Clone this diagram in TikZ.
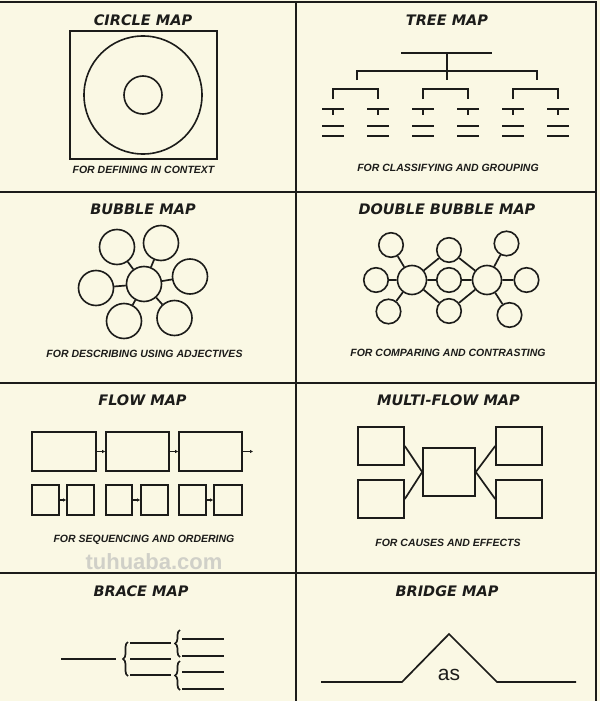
\documentclass[tikz,border=0pt]{standalone}
\usepackage{fontspec}
\setmainfont{Liberation Sans}
\newfontfamily\cimbetu{DejaVu Sans}
\usetikzlibrary{arrows.meta,decorations.pathreplacing}
\definecolor{papir}{RGB}{250,248,228}
\definecolor{tinta}{RGB}{28,28,26}
\definecolor{vizjel}{RGB}{208,208,200}
\tikzset{
  cim/.style={inner sep=0pt,text=tinta,font=\cimbetu\bfseries\itshape\fontsize{14.5}{16}\selectfont},
  alcim/.style={inner sep=0pt,text=tinta,font=\bfseries\itshape\fontsize{10.5}{12}\selectfont},
  keret/.style={draw=tinta,line width=2pt},
  vonal/.style={draw=tinta,line width=1.7pt},
  buborek/.style={circle,draw=tinta,line width=1.6pt,inner sep=0pt,minimum size=35pt},
  kisbub/.style={buborek,minimum size=24.5pt},
  doboz/.style={draw=tinta,line width=1.6pt,inner sep=0pt},
  kisnyil/.style={vonal,-{Latex[length=3pt,width=3.5pt]}},
  kapocs/.style={vonal,decorate,decoration={brace,amplitude=5pt}},
}
\begin{document}
\begin{tikzpicture}[x=1pt,y=-1pt]
  \useasboundingbox (0,0) rectangle (600,701);
  \fill[papir] (0,0) rectangle (600,701);
  % panels
  \draw[keret] (0,2) -- (596,2) -- (596,701);
  \draw[keret] (296,2) -- (296,701);
  \draw[keret] (0,192) -- (596,192);
  \draw[keret] (0,383) -- (596,383);
  \draw[keret] (0,573) -- (596,573);
  % circle map
  \node[cim] (korT) at (143,20.5) {CIRCLE MAP};
  \draw[vonal] (70,31) rectangle (217,159);
  \node[buborek,minimum size=118pt] (kulso) at (143,95) {};
  \node[buborek,minimum size=38pt] (belso) at (143,95) {};
  \node[alcim] (korF) at (143.5,170) {FOR DEFINING IN CONTEXT};
  % tree map
  \node[cim] (faT) at (447,20.5) {TREE MAP};
  \draw[vonal] (401,53) -- (492,53) (447,53) -- (447,80);
  \draw[vonal] (357,80) -- (357,71) -- (537,71) -- (537,80);
  \draw[vonal] (333,99) -- (333,89) -- (378,89) -- (378,99);
  \draw[vonal] (423,99) -- (423,89) -- (468,89) -- (468,99);
  \draw[vonal] (513,99) -- (513,89) -- (558,89) -- (558,99);
  \foreach \x in {333,378,423,468,513,558}{
    \draw[vonal] (\x-11,109) -- (\x+11,109) (\x,109) -- (\x,115);
    \draw[vonal] (\x-11,126) -- (\x+11,126) (\x-11,136) -- (\x+11,136);
  }
  \node[alcim] (faF) at (448,168) {FOR CLASSIFYING AND GROUPING};
  % bubble map
  \node[cim] (bubT) at (143,209.5) {BUBBLE MAP};
  \node[buborek] (bk) at (144,284) {};
  \node[buborek] (b1) at (117,247) {};
  \node[buborek] (b2) at (161,243) {};
  \node[buborek] (b3) at (190,276.5) {};
  \node[buborek] (b4) at (96,288) {};
  \node[buborek] (b5) at (124,321) {};
  \node[buborek] (b6) at (174.5,318) {};
  \draw[vonal] (bk) -- (b1) (bk) -- (b2) (bk) -- (b3)
    (bk) -- (b4) (bk) -- (b5) (bk) -- (b6);
  \node[alcim] (bubF) at (144.5,354) {FOR DESCRIBING USING ADJECTIVES};
  % double bubble map
  \node[cim] (dbT) at (447,209) {DOUBLE BUBBLE MAP};
  \node[buborek,minimum size=29pt] (bal) at (412,280) {};
  \node[buborek,minimum size=29pt] (jobb) at (487,280) {};
  \node[kisbub] (m1) at (449,250) {};
  \node[kisbub] (m2) at (449,280) {};
  \node[kisbub] (m3) at (449,311) {};
  \node[kisbub] (l1) at (391,245) {};
  \node[kisbub] (l2) at (376,280) {};
  \node[kisbub] (l3) at (388.5,311.5) {};
  \node[kisbub] (r1) at (506.5,243.5) {};
  \node[kisbub] (r2) at (526.5,280) {};
  \node[kisbub] (r3) at (509.5,315) {};
  \draw[vonal] (bal) -- (l1) (bal) -- (l2) (bal) -- (l3)
    (bal) -- (m1) (bal) -- (m2) (bal) -- (m3);
  \draw[vonal] (jobb) -- (r1) (jobb) -- (r2) (jobb) -- (r3)
    (jobb) -- (m1) (jobb) -- (m2) (jobb) -- (m3);
  \node[alcim] (dbF) at (448,353) {FOR COMPARING AND CONTRASTING};
  % flow map
  \node[cim] (flT) at (142.5,400) {FLOW MAP};
  \node[doboz,minimum width=64pt,minimum height=39pt] (f1) at (64,451.5) {};
  \node[doboz,minimum width=63pt,minimum height=39pt] (f2) at (137.5,451.5) {};
  \node[doboz,minimum width=63pt,minimum height=39pt] (f3) at (210.5,451.5) {};
  \coordinate (fv) at (253,451.5);
  \draw[kisnyil] (f1) -- (f2);
  \draw[kisnyil] (f2) -- (f3);
  \draw[kisnyil] (f3) -- (fv);
  \node[doboz,minimum width=27pt,minimum height=30pt] (s1) at (45.5,500) {};
  \node[doboz,minimum width=27pt,minimum height=30pt] (s2) at (80.5,500) {};
  \node[doboz,minimum width=26pt,minimum height=30pt] (s3) at (119,500) {};
  \node[doboz,minimum width=27pt,minimum height=30pt] (s4) at (154.5,500) {};
  \node[doboz,minimum width=27pt,minimum height=30pt] (s5) at (192.5,500) {};
  \node[doboz,minimum width=28pt,minimum height=30pt] (s6) at (228,500) {};
  \draw[kisnyil] (s1) -- (s2);
  \draw[kisnyil] (s3) -- (s4);
  \draw[kisnyil] (s5) -- (s6);
  \node[alcim] (flF) at (144,540) {FOR SEQUENCING AND ORDERING};
  \node[inner sep=0pt,text=vizjel,font=\bfseries\fontsize{22}{24}\selectfont] (jel) at (154,562) {tuhuaba.com};
  % multi-flow map
  \node[cim] (mfT) at (448.5,400.5) {MULTI-FLOW MAP};
  \node[doboz,minimum width=46pt,minimum height=38pt] (ok1) at (381,446) {};
  \node[doboz,minimum width=46pt,minimum height=38pt] (ok2) at (381,499) {};
  \node[doboz,minimum width=52pt,minimum height=48pt] (kozep) at (449,472) {};
  \node[doboz,minimum width=46pt,minimum height=38pt] (hat1) at (519,446) {};
  \node[doboz,minimum width=46pt,minimum height=38pt] (hat2) at (519,499) {};
  \draw[vonal] (ok1.east) -- (kozep.west) (ok2.east) -- (kozep.west);
  \draw[vonal] (kozep.east) -- (hat1.west) (kozep.east) -- (hat2.west);
  \node[alcim] (mfF) at (448,543) {FOR CAUSES AND EFFECTS};
  % brace map
  \node[cim] (kpT) at (141,591) {BRACE MAP};
  \draw[vonal] (61,659) -- (116,659);
  \draw[kapocs] (128,676) -- (128,642);
  \draw[vonal] (130,643) -- (171,643) (130,659) -- (171,659) (130,675) -- (171,675);
  \draw[kapocs] (180,657) -- (180,630);
  \draw[vonal] (182,639) -- (224,639) (182,656) -- (224,656);
  \draw[kapocs] (180,690) -- (180,661);
  \draw[vonal] (182,672) -- (224,672) (182,689) -- (224,689);
  % bridge map
  \node[cim] (hdT) at (447,591) {BRIDGE MAP};
  \draw[vonal] (321,682) -- (402,682) -- (449,634) -- (497,682) -- (576,682);
  \node[inner sep=0pt,text=tinta,font=\fontsize{21}{22}\selectfont] (as) at (449,675) {as};
\end{tikzpicture}
\end{document}
